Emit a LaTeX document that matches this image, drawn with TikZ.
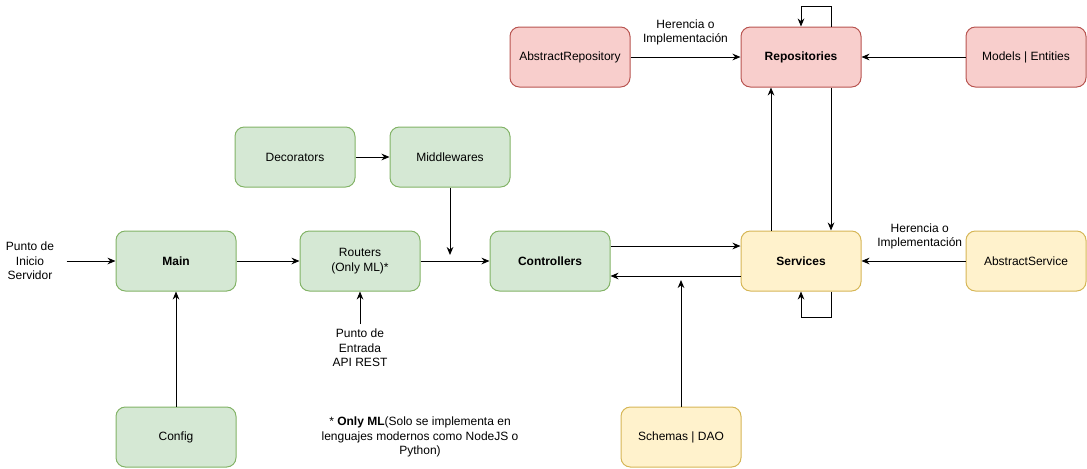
\documentclass[tikz,border=0pt]{standalone}
\usepackage{fontspec}
\setmainfont{Liberation Sans}
\usetikzlibrary{arrows.meta}

\definecolor{verdeF}{HTML}{D5E8D4}
\definecolor{verdeB}{HTML}{82B366}
\definecolor{rojoF}{HTML}{F8CECC}
\definecolor{rojoB}{HTML}{B85450}
\definecolor{amarF}{HTML}{FFF2CC}
\definecolor{amarB}{HTML}{D6B656}

\begin{document}
\begin{tikzpicture}[x=0.75pt,y=-0.75pt,
        >={Stealth[length=6pt,width=5pt]},
        font=\fontsize{9}{11}\selectfont,
        caja/.style={draw, rounded corners=7pt, minimum width=90pt, minimum height=45pt, align=center, line width=0.75pt},
        verde/.style={caja, fill=verdeF, draw=verdeB},
        rojo/.style={caja, fill=rojoF, draw=rojoB},
        amarillo/.style={caja, fill=amarF, draw=amarB},
        texto/.style={align=center},
        flecha/.style={->, line width=0.75pt}]
        \useasboundingbox (0,0) rectangle (1087,468);

        % capa de datos
        \node[rojo] (absrepo) at (570,57) {AbstractRepository};
        \node[rojo] (repo) at (801,57) {\textbf{Repositories}};
        \node[rojo] (models) at (1026,57) {Models | Entities};

        % capa de entrada
        \node[verde] (deco) at (295,157) {Decorators};
        \node[verde] (mw) at (450,157) {Middlewares};
        \node[verde] (main) at (176,261) {\textbf{Main}};
        \node[verde] (routers) at (360,261) {Routers\\(Only ML)*};
        \node[verde] (ctrl) at (550,261) {\textbf{Controllers}};
        \node[verde] (config) at (176,437) {Config};

        % servicios
        \node[amarillo] (serv) at (801,261) {\textbf{Services}};
        \node[amarillo] (absserv) at (1026,261) {AbstractService};
        \node[amarillo] (schemas) at (681,437) {Schemas | DAO};

        % textos sueltos
        \node[texto] (inicio) at (30,261) {Punto de\\Inicio\\Servidor};
        \node[texto] (entrada) at (360,348) {Punto de\\Entrada\\API REST};
        \node[texto] (nota) at (420,437) {* \textbf{Only ML}(Solo se implementa en\\lenguajes modernos como NodeJS o\\Python)};

        \coordinate (mwfin) at (450,255);
        \coordinate (schfin) at (681,280);

        \draw[flecha, shorten <=6pt] (inicio) -- (main);
        \draw[flecha] (main) -- (routers);
        \draw[flecha] (routers) -- (ctrl);
        \draw[flecha] (deco) -- (mw);
        \draw[flecha] (mw) -- (mwfin);
        \draw[flecha] (config) -- (main);
        \draw[flecha] (entrada) -- (routers);

        \draw[flecha] ([yshift=11.25pt]ctrl.east) -- ([yshift=11.25pt]serv.west);
        \draw[flecha] ([yshift=-11.25pt]serv.west) -- ([yshift=-11.25pt]ctrl.east);
        \draw[flecha] (schemas) -- (schfin);

        \draw[flecha] ([xshift=-22.5pt]serv.north) -- ([xshift=-22.5pt]repo.south);
        \draw[flecha] ([xshift=22.5pt]repo.south) -- ([xshift=22.5pt]serv.north);
        \draw[flecha] ([xshift=22.5pt]repo.north) -- ++(0,-20) -| (repo.north);
        \draw[flecha] ([xshift=22.5pt]serv.south) -- ++(0,26) -| (serv.south);

        \draw[flecha] (absrepo) -- node[texto, above=5pt] {Herencia o\\Implementación} (repo);
        \draw[flecha] (models) -- (repo);
        \draw[flecha] (absserv) -- node[texto, above=5pt, pos=0.44] {Herencia o\\Implementación} (serv);
\end{tikzpicture}
\end{document}
